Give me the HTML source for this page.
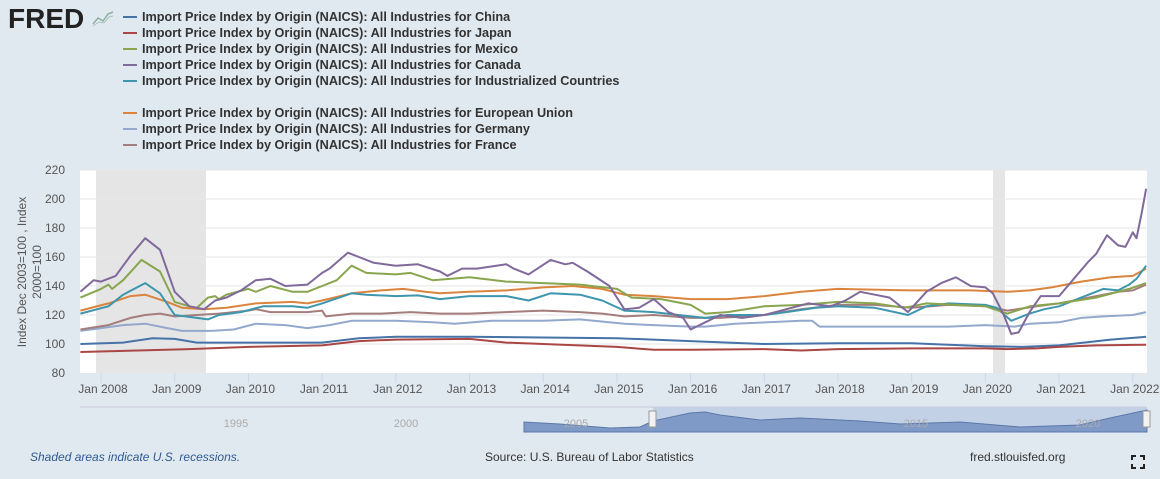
<!DOCTYPE html>
<html><head><meta charset="utf-8"><style>
body{margin:0;background:#e1e9f0;width:1160px;height:479px;overflow:hidden;font-family:"Liberation Sans",sans-serif}
</style></head><body>
<svg width="1160" height="479" xmlns="http://www.w3.org/2000/svg" style="position:absolute;left:0;top:0">
<rect width="1160" height="479" fill="#e1e9f0"/>
<text x="8" y="28" font-family="Liberation Sans" font-weight="bold" font-size="28" fill="#222">FRED</text>
<polyline points="93,24 98,18 103,21 108,14 113,12" fill="none" stroke="#8fb0a0" stroke-width="1.5"/>
<polyline points="93,26 99,22 104,23 109,17 113,16" fill="none" stroke="#a9c4b6" stroke-width="1"/>
<g font-family="Liberation Sans" font-weight="bold" font-size="12.7" fill="#333" id="leg"></g>
<rect x="80" y="170" width="1067" height="203" fill="#fff"/>
<rect x="96" y="170" width="110" height="203" fill="#e5e5e5"/>
<rect x="993" y="170" width="12" height="203" fill="#e5e5e5"/>
<g stroke="#e6e6e6" stroke-width="1" id="grid"></g>
<g font-size="12" fill="#555" text-anchor="end" id="ylab"></g>
<text transform="translate(26,272) rotate(-90)" text-anchor="middle" font-size="12" fill="#555">Index Dec 2003=100 , Index</text>
<text transform="translate(41,272) rotate(-90)" text-anchor="middle" font-size="12" fill="#555">2000=100</text>
<g id="xlab" font-size="12" fill="#555" text-anchor="middle"></g>
<g id="series" fill="none" stroke-width="2" stroke-linejoin="round"></g>
<line x1="80" y1="407" x2="1147" y2="407" stroke="#ccd" />
<rect x="653" y="407" width="494" height="25" fill="#c3d1e6"/>
<path id="nav" fill="#7f9ac6" stroke="#5b78aa" stroke-width="1"/>
<g font-size="11" fill="#aaa" text-anchor="middle"><text x="236" y="427">1995</text><text x="406" y="427">2000</text><text x="576" y="427">2005</text><text x="916" y="427">2015</text><text x="1088" y="427">2020</text></g>
<rect x="649" y="411" width="7" height="16" fill="#f2f2f2" stroke="#999"/>
<rect x="1143" y="411" width="7" height="16" fill="#f2f2f2" stroke="#999"/>
<text x="30" y="461" font-size="12" font-style="italic" fill="#2e5b92">Shaded areas indicate U.S. recessions.</text>
<text x="485" y="461" font-size="12" fill="#333">Source: U.S. Bureau of Labor Statistics</text>
<text x="970" y="461" font-size="12" fill="#333">fred.stlouisfed.org</text>
<g stroke="#222" stroke-width="2" fill="none"><path d="M1132,460v-4h4M1140,456h4v4M1144,464v4h-4M1136,468h-4v-4"/></g>
</svg>
<script>
const NS="http://www.w3.org/2000/svg";
function el(p,t,a,txt){const e=document.createElementNS(NS,t);for(const k in a)e.setAttribute(k,a[k]);if(txt)e.textContent=txt;document.getElementById(p).appendChild(e);}
const X=t=>101+(t-2008)*73.7, Y=v=>373-(v-80)*1.45;
for(let v=100;v<=220;v+=20)el("grid","line",{x1:80,x2:1147,y1:Y(v),y2:Y(v)});
for(let v=80;v<=220;v+=20)el("ylab","text",{x:65,y:Y(v)+4},String(v));
for(let y=2008;y<=2022;y++){el("grid","line",{x1:X(y),x2:X(y),y1:373,y2:383,stroke:"#ccd6eb"});el("xlab","text",{x:X(y)+2,y:393},"Jan "+y);}
const names=["China","Japan","Mexico","Canada","Industrialized Countries","European Union","Germany","France"];
const cols=["#4572A7","#AA4643","#89A54E","#80699B","#3D96AE","#DB843D","#92A8CD","#A47D7C"];
const ys=[17,33,49,65,81,113,129,145];
names.forEach((n,i)=>{el("leg","line",{x1:123,x2:137,y1:ys[i],y2:ys[i],stroke:cols[i],"stroke-width":2});el("leg","text",{x:142,y:ys[i]+4},"Import Price Index by Origin (NAICS): All Industries for "+n);});
const D=[
[2007.72,100,2008.3,101,2008.7,104,2009,103.5,2009.3,101,2010,101,2011,101,2011.5,104,2012,105,2013,105,2014,104.5,2015,104,2016,102,2017,100,2018,100.5,2019,100.5,2020,98.5,2020.5,98,2021,99,2021.7,103,2022.18,105],
[2007.72,94.5,2008.5,95.5,2009.2,96.5,2010,98,2011,99,2011.5,102,2012,103,2013,103.5,2013.5,101,2014,100,2015,98,2015.5,96,2016,96,2017,96.5,2017.5,95.5,2018,96.5,2019,97,2020,97,2020.3,96.5,2020.7,97,2021,98,2021.5,99,2022.18,99.5],
[2007.72,132,2008,138,2008.1,141,2008.15,138,2008.3,144,2008.55,158,2008.8,150,2009,129,2009.2,126,2009.3,125,2009.45,132,2009.55,133,2009.6,131,2009.7,134,2010,138,2010.1,136,2010.3,140,2010.6,136,2010.8,136,2011,140,2011.2,144,2011.4,154,2011.6,149,2012,148,2012.2,149,2012.5,144,2013,146,2013.5,143,2014,142,2014.5,141,2015,138,2015.2,132,2015.6,131,2016,127,2016.2,121,2016.5,122,2017,126,2017.5,127,2018,129,2018.5,128,2018.9,125,2019.2,128,2019.6,127,2020,126,2020.3,121,2020.6,126,2021,128,2021.5,132,2021.95,138,2022.18,142],
[2007.72,136,2007.9,144,2008.0,143,2008.2,147,2008.4,161,2008.6,173,2008.8,165,2009.0,136,2009.2,126,2009.4,124,2009.55,130,2009.7,132,2009.9,137,2010.1,144,2010.3,145,2010.5,140,2010.8,141,2011.0,149,2011.1,152,2011.35,163,2011.5,160,2011.7,156,2012,154,2012.3,155,2012.6,150,2012.7,147,2012.9,152,2013.1,152,2013.5,155,2013.6,152,2013.8,148,2014.1,158,2014.3,155,2014.4,156,2014.6,150,2014.9,140,2015.1,124,2015.3,125,2015.5,131,2015.7,122,2015.9,118,2016.0,110,2016.2,115,2016.4,120,2016.7,118,2017,120,2017.3,124,2017.6,128,2017.9,126,2018.1,130,2018.3,136,2018.5,134,2018.7,132,2018.95,122,2019.2,136,2019.4,142,2019.6,146,2019.8,140,2020.0,139,2020.1,135,2020.25,120,2020.35,107,2020.45,108,2020.6,122,2020.75,133,2021.0,133,2021.2,145,2021.4,157,2021.5,162,2021.65,175,2021.8,168,2021.9,167,2022.0,177,2022.05,173,2022.12,190,2022.18,207],
[2007.72,121,2008.1,126,2008.3,134,2008.6,142,2008.8,135,2009.0,120,2009.3,118,2009.45,117,2009.6,120,2009.9,122,2010.2,126,2010.6,126,2010.8,125,2011,128,2011.4,135,2011.6,134,2012,133,2012.3,133.5,2012.6,131,2013,133,2013.5,133,2013.8,130,2014.1,135,2014.5,134,2014.8,130,2015.1,123,2015.5,122,2016,119,2016.2,118,2016.5,120,2017,120,2017.3,122,2017.7,125,2018,126,2018.5,125,2018.95,120,2019.2,126,2019.5,128,2020,127,2020.15,125,2020.35,116,2020.6,121,2020.8,124,2021,126,2021.3,132,2021.6,138,2021.8,137,2021.95,141,2022.05,145,2022.18,154],
[2007.72,123,2008.1,128,2008.4,133,2008.6,134,2008.9,129,2009.1,125,2009.4,124,2009.7,125,2010.1,128,2010.6,129,2010.8,128,2011,130,2011.4,135,2011.8,137,2012.1,138,2012.4,136,2012.6,135,2013,136,2013.5,137,2014,139,2014.4,140,2014.8,138,2015.1,134,2015.5,133,2016,131,2016.5,131,2017,133,2017.5,136,2018,138,2019,137,2019.8,137,2020.3,136,2020.6,137,2020.9,139,2021.3,143,2021.7,146,2022,147,2022.18,152],
[2007.72,109,2008.0,111,2008.3,113,2008.6,114,2008.9,111,2009.1,109,2009.5,109,2009.8,110,2010.1,114,2010.5,113,2010.8,111,2011.1,113,2011.4,116,2012,116,2012.5,115,2012.8,114,2013.3,116,2014,116,2014.5,117,2015.1,114,2015.5,113,2016,112,2016.2,112,2016.6,114,2017.5,116,2017.65,116,2017.75,112,2018.5,112,2019.5,112,2020,113,2020.4,112,2020.6,114,2021,115,2021.3,118,2021.6,119,2022,120,2022.18,122],
[2007.72,110,2008.1,113,2008.4,118,2008.6,120,2008.8,121,2009.0,119,2009.3,120,2009.6,121,2010,123,2010.1,124,2010.3,122,2010.8,122,2011.0,123,2011.05,119,2011.4,121,2011.8,121,2012.2,122,2012.6,121,2013,121,2013.5,122,2014,123,2014.5,122,2014.8,121,2015.1,119,2015.5,120,2016,118,2016.4,118,2017,120,2017.5,124,2018,127,2018.5,127,2019,125,2019.5,127,2020,126,2020.3,123,2020.7,126,2021,128,2021.4,132,2021.8,136,2022,137,2022.18,141]];
const order=[6,7,5,4,2,3,0,1];
order.forEach(i=>{const a=D[i];let d="";for(let k=0;k<a.length;k+=2){d+=(k?"L":"M")+Math.min(X(a[k]),1147).toFixed(1)+","+Y(a[k+1]).toFixed(1);}el("series","path",{d:d,stroke:cols[i]});});
const nv=[524,422,560,424,610,428,640,427,653,421,690,413,705,412,720,415,760,420,800,418,860,421,900,424,960,422,1020,427,1080,425,1110,418,1147,410];
let nd="M524,432";for(let k=0;k<nv.length;k+=2)nd+="L"+nv[k]+","+nv[k+1];nd+="L1147,432Z";
document.getElementById("nav").setAttribute("d",nd);
</script>
</body></html>
